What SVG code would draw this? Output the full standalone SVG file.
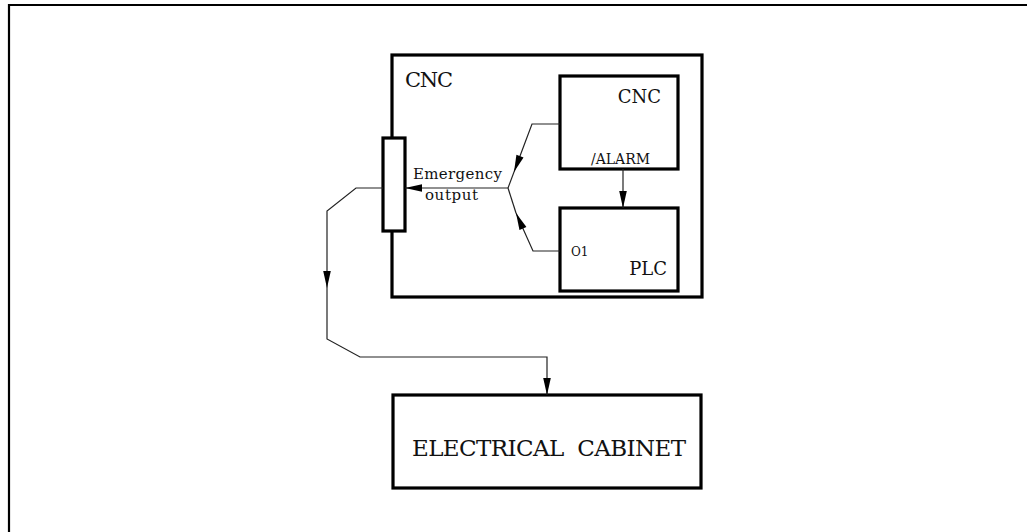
<svg xmlns="http://www.w3.org/2000/svg" width="1027" height="532" viewBox="0 0 1027 532">
<defs>
<marker id="ah" markerUnits="userSpaceOnUse" markerWidth="20" markerHeight="10" refX="17" refY="4" orient="auto" overflow="visible">
<path d="M0,0.2 L17,4 L0,7.8 z" fill="#000"/>
</marker>
<style>
.frame{fill:none;stroke:#000;stroke-width:2.2}
.box{fill:#fff;stroke:#000;stroke-width:3.2}
.conn{fill:none;stroke:#222;stroke-width:1.2}
.t{font-family:"DejaVu Serif","Liberation Serif",serif;fill:#111}
</style>
</defs>
<rect width="1027" height="532" fill="#fff"/>
<path class="frame" d="M9,532 L9,5 L1027,5"/>
<g id="cnc-outer">
<rect class="box" x="392" y="55" width="310" height="242"/>
<text class="t" x="405" y="87" font-size="21" textLength="48">CNC</text>
</g>
<g id="cnc-inner">
<rect class="box" x="560" y="76" width="118" height="93"/>
<text class="t" x="661" y="103" font-size="18" text-anchor="end">CNC</text>
<text class="t" x="591" y="164" font-size="14" textLength="59">/ALARM</text>
</g>
<g id="plc">
<rect class="box" x="560" y="208" width="118" height="83"/>
<text class="t" x="571" y="256" font-size="12">O1</text>
<text class="t" x="667" y="275" font-size="18" text-anchor="end">PLC</text>
</g>
<g id="emergency-terminal">
<rect class="box" x="383" y="138" width="22" height="93"/>
</g>
<g id="electrical-cabinet">
<rect class="box" x="393" y="395" width="308" height="93" stroke-width="3.8"/>
<text class="t" x="412" y="456" font-size="23" textLength="274" xml:space="preserve">ELECTRICAL  CABINET</text>
</g>
<g id="connectors">
<path class="conn" d="M560,124 L532,124 L514,172" marker-end="url(#ah)"/>
<path class="conn" d="M514,172 L508,188"/>
<path class="conn" d="M560,251 L533,251 L516,213" marker-end="url(#ah)"/>
<path class="conn" d="M516,213 L508,188"/>
<path class="conn" d="M508,188 L405,188" marker-end="url(#ah)"/>
<path class="conn" d="M623,169 L623,208" marker-end="url(#ah)"/>
<path class="conn" d="M383,188 L356,188 L327,211 L327,288" marker-end="url(#ah)"/>
<path class="conn" d="M327,288 L327,339 L360,357 L547,357 L547,395" marker-end="url(#ah)"/>
<text class="t" x="413" y="179" font-size="15" textLength="89">Emergency</text>
<text class="t" x="425" y="200" font-size="15" textLength="53">output</text>
</g>
</svg>
